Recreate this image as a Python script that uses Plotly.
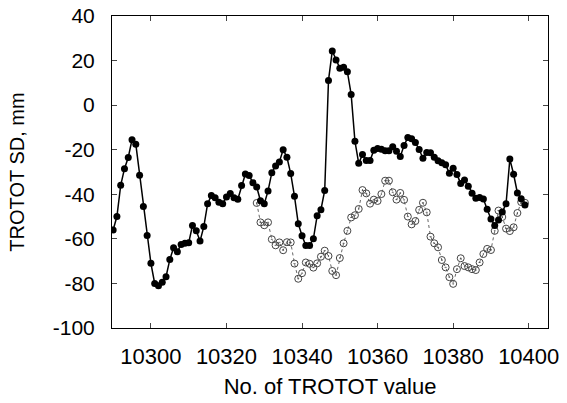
import plotly.graph_objects as go

x_black = list(range(10290, 10400))
y_black = [
    -56, -50, -36, -28.5, -23.5, -15.5, -17.5, -31.5, -45.5, -58.5,
    -71, -80, -81, -79.5, -77, -69.3, -64, -65.8, -62.5, -62,
    -61.8, -54, -56.4, -61, -54.5, -44.3, -40.5, -41.6, -43.6, -44.2,
    -41.2, -39.7, -41.6, -42.2, -36.1, -30.9, -31.6, -34.8, -36.7, -42.9,
    -44.3, -38.5, -30.3, -27.3, -25.5, -20, -23.4, -30.7, -40.9, -53.2,
    -58.6, -63, -63, -60, -49.6, -46.9, -38.3, 11.1, 24.3, 20.3,
    16.6, 17, 15, 4.8, -16.2, -26.1, -22.2, -24.8, -24.8, -20.2,
    -19.5, -19.8, -20.5, -20.5, -18.7, -20.7, -23.1, -18.1, -14.5, -15.1,
    -16.8, -19.9, -23.8, -21.3, -21.4, -23.4, -25, -25.8, -26.8, -30.6,
    -28.3, -31.1, -35.2, -33.6, -36.4, -39.5, -41.8, -41.4, -42.1, -46.7,
    -51.1, -54, -51.5, -48, -44.3, -24.2, -31, -39.4, -42, -44.8,
]

x_open = list(range(10328, 10400))
y_open = [
    -43.9, -52.6, -53.9, -52.6, -60.2, -62.9, -61.6, -65.1, -61.5, -61.6,
    -71.1, -77.9, -75.4, -70.6, -71.2, -72.9, -71, -68, -65.3, -67.7,
    -74.4, -76.3, -68.6, -62, -56.4, -50.4, -49.4, -46.6, -38.1, -39.6,
    -44.2, -42.4, -43, -39.9, -33.9, -33.9, -39.1, -42.4, -39.4, -42.5,
    -50, -53.5, -52, -47, -43.8, -48.1, -59, -62, -63.8, -69.5,
    -72.8, -77.2, -80.2, -73.6, -68.7, -72.2, -72.8, -73.6, -74, -70.6,
    -66.8, -64.5, -65, -56.4, -47.3, -50.2, -55.4, -56.5, -54.8, -48.4,
    -43.5, -43.8,
]

x_ticks = [10300, 10320, 10340, 10360, 10380, 10400]
x_ticklabels = ["10300", "10320", "10340", "10360", "10380", "10400"]
y_ticks = [40, 20, 0, -20, -40, -60, -80, -100]
y_ticklabels = ["40", "20", "0", "-20", "-40", "-60", "-80", "-100"]

fig = go.Figure()
fig.add_trace(go.Scatter(
    x=x_open, y=y_open, mode="lines+markers",
    line=dict(color="#666666", width=1, dash="dot"),
    marker=dict(symbol="circle-open-dot", size=7, color="#444444",
                line=dict(width=1, color="#444444")),
    showlegend=False,
))
fig.add_trace(go.Scatter(
    x=x_black, y=y_black, mode="lines+markers",
    line=dict(color="black", width=1.5),
    marker=dict(symbol="circle", size=7, color="black"),
    showlegend=False,
))

font = "Liberation Sans, Arial, Helvetica, sans-serif"
fig.update_layout(
    width=567, height=403,
    margin=dict(l=112, r=19, t=16, b=75),
    plot_bgcolor="white", paper_bgcolor="white",
    font=dict(family=font, size=20, color="black"),
)
fig.update_xaxes(
    range=[10289.7, 10405.1], tickvals=x_ticks, ticktext=x_ticklabels,
    ticks="inside", ticklen=5, tickfont=dict(size=22), automargin=False,
    showline=True, linecolor="black", linewidth=1, mirror="ticks",
    showgrid=False, zeroline=False, ticklabelstandoff=9,
    title=dict(text="No. of TROTOT value", standoff=10, font=dict(size=22)),
)
fig.update_yaxes(
    range=[-100, 40], tickvals=y_ticks, ticktext=y_ticklabels,
    ticks="inside", ticklen=5, tickfont=dict(size=21), automargin=False,
    showline=True, linecolor="black", linewidth=1, mirror="ticks",
    showgrid=False, zeroline=False, ticklabelstandoff=12,
    title=dict(text="TROTOT SD, mm", standoff=22, font=dict(size=20)),
)
fig.write_html("out.html")
